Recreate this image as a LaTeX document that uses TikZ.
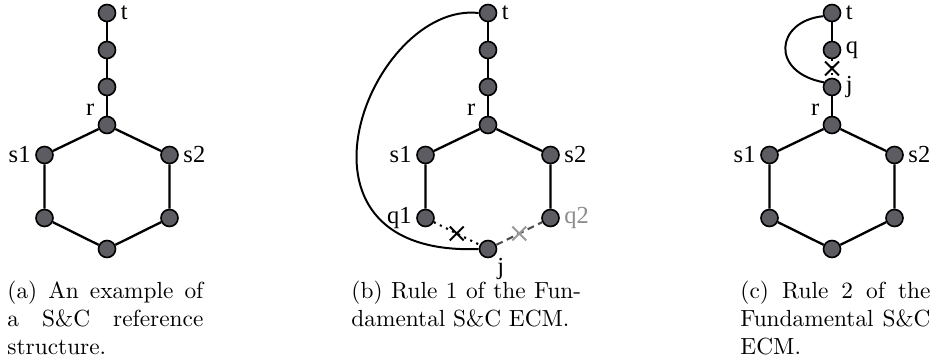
\documentclass[tikz,border=0pt]{standalone}
\usepackage{fontspec}
\usepackage{xcolor}
\usepackage{tikz}
\usetikzlibrary{shapes.misc}
\newfontfamily\labfamily{Liberation Serif}
\newcommand{\labfont}{\labfamily\fontsize{10.5}{12}\selectfont}
\definecolor{nodefill}{RGB}{92,92,98}
\tikzset{
  vtx/.style={circle, draw=black, line width=0.7pt, fill=nodefill, minimum size=7.3pt, inner sep=0pt},
  edge/.style={line width=1pt, black},
  loopcurve/.style={line width=0.85pt, black},
  cut/.style={line width=0.9pt, black, dotted},
  cutgray/.style={line width=0.9pt, black!70, densely dashed},
  crossmark/.style={cross out, solid, draw=black, line width=0.8pt, minimum size=5.2pt, inner sep=0pt},
  crossgray/.style={crossmark, draw=black!40},
  every label/.style={font=\labfont, inner sep=1.8pt},
  capt/.style={anchor=north west, inner sep=0pt, align=justify, font=\normalsize},
}

\begin{document}
\begin{tikzpicture}[x=0.4288pt, y=-0.4288pt]
\useasboundingbox (0,0) rectangle (933,364);
\node[vtx,label={right:t}] (ta) at (107,13) {};
\node[vtx] (ua) at (107,50) {};
\node[vtx] (va) at (107,87) {};
\node[vtx,label={150:r}] (ra) at (107,125) {};
\node[vtx,label={left:s1}] (s1a) at (44.5,155) {};
\node[vtx,label={right:s2}] (s2a) at (169.5,155) {};
\node[vtx] (la) at (44.5,218) {};
\node[vtx] (ma) at (169.5,218) {};
\node[vtx] (ba) at (107,249) {};
\draw[edge] (ta) -- (ua) -- (va) -- (ra);
\draw[edge] (ra) -- (s1a) -- (la) -- (ba) -- (ma) -- (s2a) -- (ra);
\node[vtx,label={right:t}] (tb) at (488,13) {};
\node[vtx] (ub) at (488,50) {};
\node[vtx] (vb) at (488,87) {};
\node[vtx,label={150:r}] (rb) at (488,125) {};
\node[vtx,label={left:s1}] (s1b) at (425.5,155) {};
\node[vtx,label={right:s2}] (s2b) at (550.5,155) {};
\node[vtx,label={left:q1}] (q1b) at (425.5,218) {};
\node[vtx,label={[text=black!45]right:q2}] (q2b) at (550.5,218) {};
\node[vtx,label={[inner sep=1pt]-45:j}] (jb) at (488,249) {};
\draw[edge] (tb) -- (ub) -- (vb) -- (rb);
\draw[edge] (q1b) -- (s1b) -- (rb) -- (s2b) -- (q2b);
\draw[cut] (q1b) -- node[crossmark] (xb1) {} (jb);
\draw[cutgray] (jb) -- node[crossgray] (xb2) {} (q2b);
\draw[loopcurve] (tb.west) .. controls +(-108,-12) and +(-210,8) .. (jb.west);
\node[vtx,label={right:t}] (tc) at (832,13) {};
\node[vtx,label={right:q}] (qc) at (832,50) {};
\node[vtx,label={right:j}] (jc) at (832,87) {};
\node[vtx,label={150:r}] (rc) at (832,125) {};
\node[vtx,label={left:s1}] (s1c) at (769.5,155) {};
\node[vtx,label={right:s2}] (s2c) at (894.5,155) {};
\node[vtx] (lc) at (769.5,218) {};
\node[vtx] (mc) at (894.5,218) {};
\node[vtx] (bc) at (832,249) {};
\draw[edge] (tc) -- (qc);
\draw[cut] (qc) -- node[crossmark] (xc) {} (jc);
\draw[edge] (jc) -- (rc);
\draw[edge] (rc) -- (s1c) -- (lc) -- (bc) -- (mc) -- (s2c) -- (rc);
\draw[loopcurve] (tc.200) .. controls +(-48,5) and +(-54,-10) .. (jc.150);
\node[capt, text width=84pt] (capa) at (7,281) {(a) An example of\linebreak a S\&C reference\linebreak structure.};
\node[capt, text width=98.5pt] (capb) at (351,281) {(b) Rule 1 of the Fun-\linebreak damental S\&C ECM.};
\node[capt, text width=81.5pt] (capc) at (740,281) {(c) Rule 2 of the\linebreak Fundamental S\&C\linebreak ECM.};
\end{tikzpicture}
\end{document}
